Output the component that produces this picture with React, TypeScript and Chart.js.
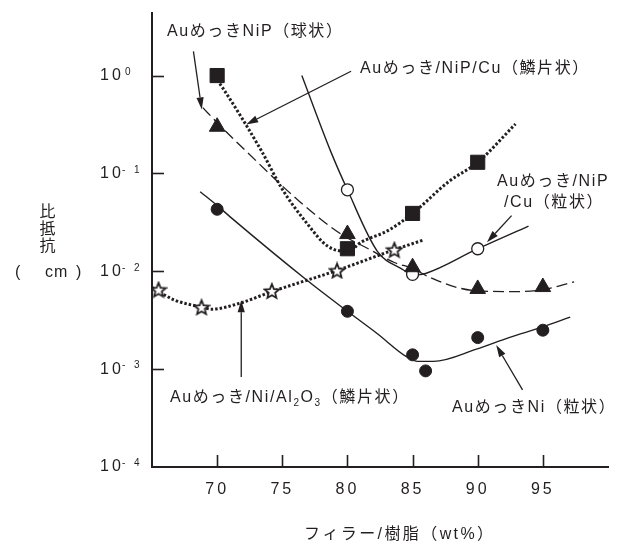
import { useEffect, useRef } from "react";
import { Chart, registerables } from "chart.js";
Chart.register(...registerables);

// Axis ticks
const xTicks = [70, 75, 80, 85, 90, 95];
const yTicks = [1e-4, 1e-3, 1e-2, 1e-1, 1];

// Auめっき/NiP/Cu（鱗片状） - squares, dotted
const sqX = [70, 80, 85, 90];
const sqY = [1.0, 0.017, 0.039, 0.13];
const sqCurveX = [70, 70.45, 73.4, 75.0, 76.8, 78.5, 80, 81.1, 83.1, 85, 87.8, 90, 92.9];
const sqCurveY = [0.9, 0.74, 0.17, 0.069, 0.032, 0.018, 0.016, 0.02, 0.026, 0.039, 0.083, 0.13, 0.32];

// AuめっきNiP（球状） - triangles, dashed
const triX = [70, 80, 85, 90, 95];
const triY = [0.3, 0.024, 0.011, 0.0066, 0.0069];
const triCurveX = [68.9, 70, 72.2, 76.3, 79.5, 81.6, 83.6, 85, 86.3, 88.3, 90, 92.9, 95, 97.4];
const triCurveY = [0.47, 0.33, 0.17, 0.052, 0.024, 0.017, 0.0123, 0.0107, 0.0087, 0.0069, 0.0063, 0.0062, 0.0065, 0.0078];

// Auめっき/NiP/Cu（粒状） - open circles, solid
const cirX = [80, 85, 90];
const cirY = [0.068, 0.0093, 0.017];
const cirCurveX = [76.5, 78.7, 80, 82.3, 84.1, 85.2, 86, 90, 93.9];
const cirCurveY = [1.0, 0.17, 0.068, 0.016, 0.0107, 0.0092, 0.0095, 0.017, 0.029];

// Auめっき/Ni/Al2O3（鱗片状） - open stars, dotted
const starX = [65.5, 68.8, 74.2, 79.2, 83.6];
const starY = [0.0065, 0.0043, 0.0063, 0.0102, 0.0166];
const starCurveX = [65, 66.7, 68.8, 69.6, 71.7, 74.2, 79.2, 83.6, 85.9];
const starCurveY = [0.0068, 0.0051, 0.0043, 0.0041, 0.0047, 0.0062, 0.0102, 0.0166, 0.021];

// AuめっきNi（粒状） - filled dots, solid
const dotX = [70, 80, 85, 86, 90, 95];
const dotY = [0.043, 0.0039, 0.0014, 0.00096, 0.0021, 0.0025];
const dotCurveX = [68.7, 70, 71, 76.8, 80, 82.3, 84.5, 85.4, 86.6, 89.9, 92.4, 95, 97.1];
const dotCurveY = [0.065, 0.047, 0.036, 0.0083, 0.0039, 0.0023, 0.00135, 0.0012, 0.0012, 0.0016, 0.0021, 0.0027, 0.0034];

// Annotation arrows (data coordinates: [x, y])
const arrowFrom = [[68.18, 1.77], [80.28, 1.106], [92.6, 0.037], [71.85, 0.000833], [93.44, 0.000614]];
const arrowTo = [[68.82, 0.451], [72.23, 0.317], [90.71, 0.0198], [71.85, 0.00506], [91.42, 0.00176]];

const FONT = "'Liberation Sans', Arial, 'Noto Sans CJK JP', sans-serif";
const INK = "#231f20";

const pts = (xs: number[], ys: number[]) => xs.map((x, i) => ({ x, y: ys[i] }));

function makeStar() {
  const c = document.createElement("canvas");
  c.width = 18;
  c.height = 18;
  const g = c.getContext("2d")!;
  g.beginPath();
  for (let i = 0; i < 10; i++) {
    const r = i % 2 === 0 ? 7.6 : 3.4;
    const a = -Math.PI / 2 + (i * Math.PI) / 5;
    g.lineTo(9 + r * Math.cos(a), 9.8 + r * Math.sin(a));
  }
  g.closePath();
  g.fillStyle = "#fff";
  g.fill();
  g.lineWidth = 1.8;
  g.strokeStyle = INK;
  g.stroke();
  return c;
}

export default function App() {
  const ref = useRef<HTMLCanvasElement>(null);

  useEffect(() => {
    const canvas = ref.current!;
    const star = makeStar();

    const decor = {
      id: "decor",
      beforeDraw(chart: any) {
        chart.ctx.letterSpacing = "3px";
      },
      afterDraw(chart: any) {
        const ctx = chart.ctx;
        const xs = chart.scales.x;
        const ys = chart.scales.y;
        const area = chart.chartArea;
        ctx.save();
        ctx.strokeStyle = INK;
        ctx.fillStyle = INK;
        ctx.lineWidth = 1.6;
        // inner tick marks
        xTicks.forEach((v) => {
          const px = Math.round(xs.getPixelForValue(v)) + 0.5;
          ctx.beginPath();
          ctx.moveTo(px, area.bottom);
          ctx.lineTo(px, area.bottom - 12);
          ctx.stroke();
        });
        yTicks.forEach((v) => {
          const py = Math.round(ys.getPixelForValue(v)) + 0.5;
          if (py > area.bottom - 2) return;
          ctx.beginPath();
          ctx.moveTo(area.left, py);
          ctx.lineTo(area.left + 12, py);
          ctx.stroke();
        });
        // y tick exponents (superscripts)
        ctx.textBaseline = "middle";
        ctx.textAlign = "left";
        ctx.letterSpacing = "3px";
        ctx.font = `10px ${FONT}`;
        yTicks.forEach((v) => {
          const e = Math.round(Math.log10(v));
          const py = ys.getPixelForValue(v);
          const s = e < 0 ? `- ${-e}` : `${e}`;
          ctx.fillText(s, e < 0 ? 122 : 125, py - 3.5);
        });
        // arrows
        ctx.lineWidth = 1.3;
        arrowFrom.forEach((f, i) => {
          const t = arrowTo[i];
          const x1 = xs.getPixelForValue(f[0]);
          const y1 = ys.getPixelForValue(f[1]);
          const x2 = xs.getPixelForValue(t[0]);
          const y2 = ys.getPixelForValue(t[1]);
          const ang = Math.atan2(y2 - y1, x2 - x1);
          const L = 12;
          const W = 3.6;
          const bx = x2 - L * Math.cos(ang);
          const by = y2 - L * Math.sin(ang);
          ctx.beginPath();
          ctx.moveTo(x1, y1);
          ctx.lineTo(bx, by);
          ctx.stroke();
          ctx.beginPath();
          ctx.moveTo(x2, y2);
          ctx.lineTo(bx + W * Math.sin(ang), by - W * Math.cos(ang));
          ctx.lineTo(bx - W * Math.sin(ang), by + W * Math.cos(ang));
          ctx.closePath();
          ctx.fill();
        });
        // texts
        ctx.letterSpacing = "1.6px";
        ctx.font = `16px ${FONT}`;
        const texts: [string, number, number][] = [
          ["AuめっきNiP（球状）", 167, 32],
          ["Auめっき/NiP/Cu（鱗片状）", 360, 69],
          ["Auめっき/NiP", 497, 182],
          ["/Cu（粒状）", 504, 203],
          ["AuめっきNi（粒状）", 452, 408],
        ];
        texts.forEach(([t, x, y]) => ctx.fillText(t, x, y));
        // Al2O3 label with subscripts
        let cx = 170;
        const cy = 398;
        const seg = (s: string, size: number, dy: number) => {
          ctx.font = `${size}px ${FONT}`;
          ctx.fillText(s, cx, cy + dy);
          cx += ctx.measureText(s).width;
        };
        seg("Auめっき/Ni/Al", 16, 0);
        seg("2", 10, 5);
        seg("O", 16, 0);
        seg("3", 10, 5);
        seg("（鱗片状）", 16, 0);
        // axis titles
        ctx.font = `16px ${FONT}`;
        ctx.letterSpacing = "2.4px";
        ctx.fillText("フィラー/樹脂（wt%）", 304, 535);
        ctx.letterSpacing = "1px";
        ctx.textAlign = "center";
        ["比", "抵", "抗"].forEach((c, i) => ctx.fillText(c, 48, 213 + i * 17));
        ctx.textAlign = "left";
        ctx.fillText("(", 15, 273);
        ctx.fillText("cm", 45, 273);
        ctx.fillText(")", 76, 273);
        ctx.restore();
      },
    };

    const lineDs = (xs: number[], ys: number[], dash: number[], width: number) => ({
      data: pts(xs, ys),
      showLine: true,
      borderColor: INK,
      borderWidth: width,
      borderDash: dash,
      borderCapStyle: "butt",
      pointRadius: 0,
      cubicInterpolationMode: "monotone",
      order: 2,
    });

    const chart = new Chart(canvas, {
      type: "scatter",
      data: {
        datasets: [
          { data: pts(sqX, sqY), pointStyle: "rect", pointRadius: 10, backgroundColor: INK, borderColor: INK, borderWidth: 1, order: 1 },
          { data: pts(triX, triY), pointStyle: "triangle", pointRadius: 9, backgroundColor: INK, borderColor: INK, borderWidth: 1, order: 1 },
          { data: pts(cirX, cirY), pointStyle: "circle", pointRadius: 6, backgroundColor: "#fff", borderColor: INK, borderWidth: 1.3, order: 1 },
          { data: pts(starX, starY), pointStyle: star, pointRadius: 8, order: 1 },
          { data: pts(dotX, dotY), pointStyle: "circle", pointRadius: 6, backgroundColor: INK, borderColor: INK, borderWidth: 1, order: 1 },
          lineDs(sqCurveX, sqCurveY, [2.5, 2], 3),
          lineDs(triCurveX, triCurveY, [11, 5], 1.3),
          lineDs(cirCurveX, cirCurveY, [], 1.4),
          lineDs(starCurveX, starCurveY, [2.5, 2], 3),
          lineDs(dotCurveX, dotCurveY, [], 1.4),
        ] as any,
      },
      options: {
        animation: false,
        responsive: false,
        events: [],
        layout: { padding: { left: 100, top: 11, right: 7, bottom: 0 } },
        plugins: { legend: { display: false }, tooltip: { enabled: false } },
        scales: {
          x: {
            type: "linear",
            min: 65,
            max: 100,
            afterBuildTicks: (s: any) => {
              s.ticks = xTicks.map((v) => ({ value: v }));
            },
            afterFit: (s: any) => {
              s.height = 78;
            },
            grid: { display: false, drawTicks: false },
            border: { display: true, color: INK, width: 2 },
            ticks: {
              color: INK,
              font: { size: 16, family: FONT },
              padding: 13,
              maxRotation: 0,
              autoSkip: false,
              callback: (v: any) => String(v),
            },
          },
          y: {
            type: "logarithmic",
            min: 1e-4,
            max: 4.4,
            afterBuildTicks: (s: any) => {
              s.ticks = yTicks.map((v) => ({ value: v }));
            },
            afterFit: (s: any) => {
              s.width = 52;
            },
            grid: { display: false, drawTicks: false },
            border: { display: true, color: INK, width: 2 },
            ticks: {
              color: INK,
              crossAlign: "far",
              font: { size: 16, family: FONT },
              callback: () => "10",
            },
          },
        },
      },
      plugins: [decor],
    } as any);
    return () => chart.destroy();
  }, []);

  return (
    <div style={{ position: "fixed", left: 0, top: 0, width: 619, height: 545, background: "#fff" }}>
      <canvas ref={ref} width={619} height={545} style={{ width: 619, height: 545, display: "block" }} />
    </div>
  );
}
